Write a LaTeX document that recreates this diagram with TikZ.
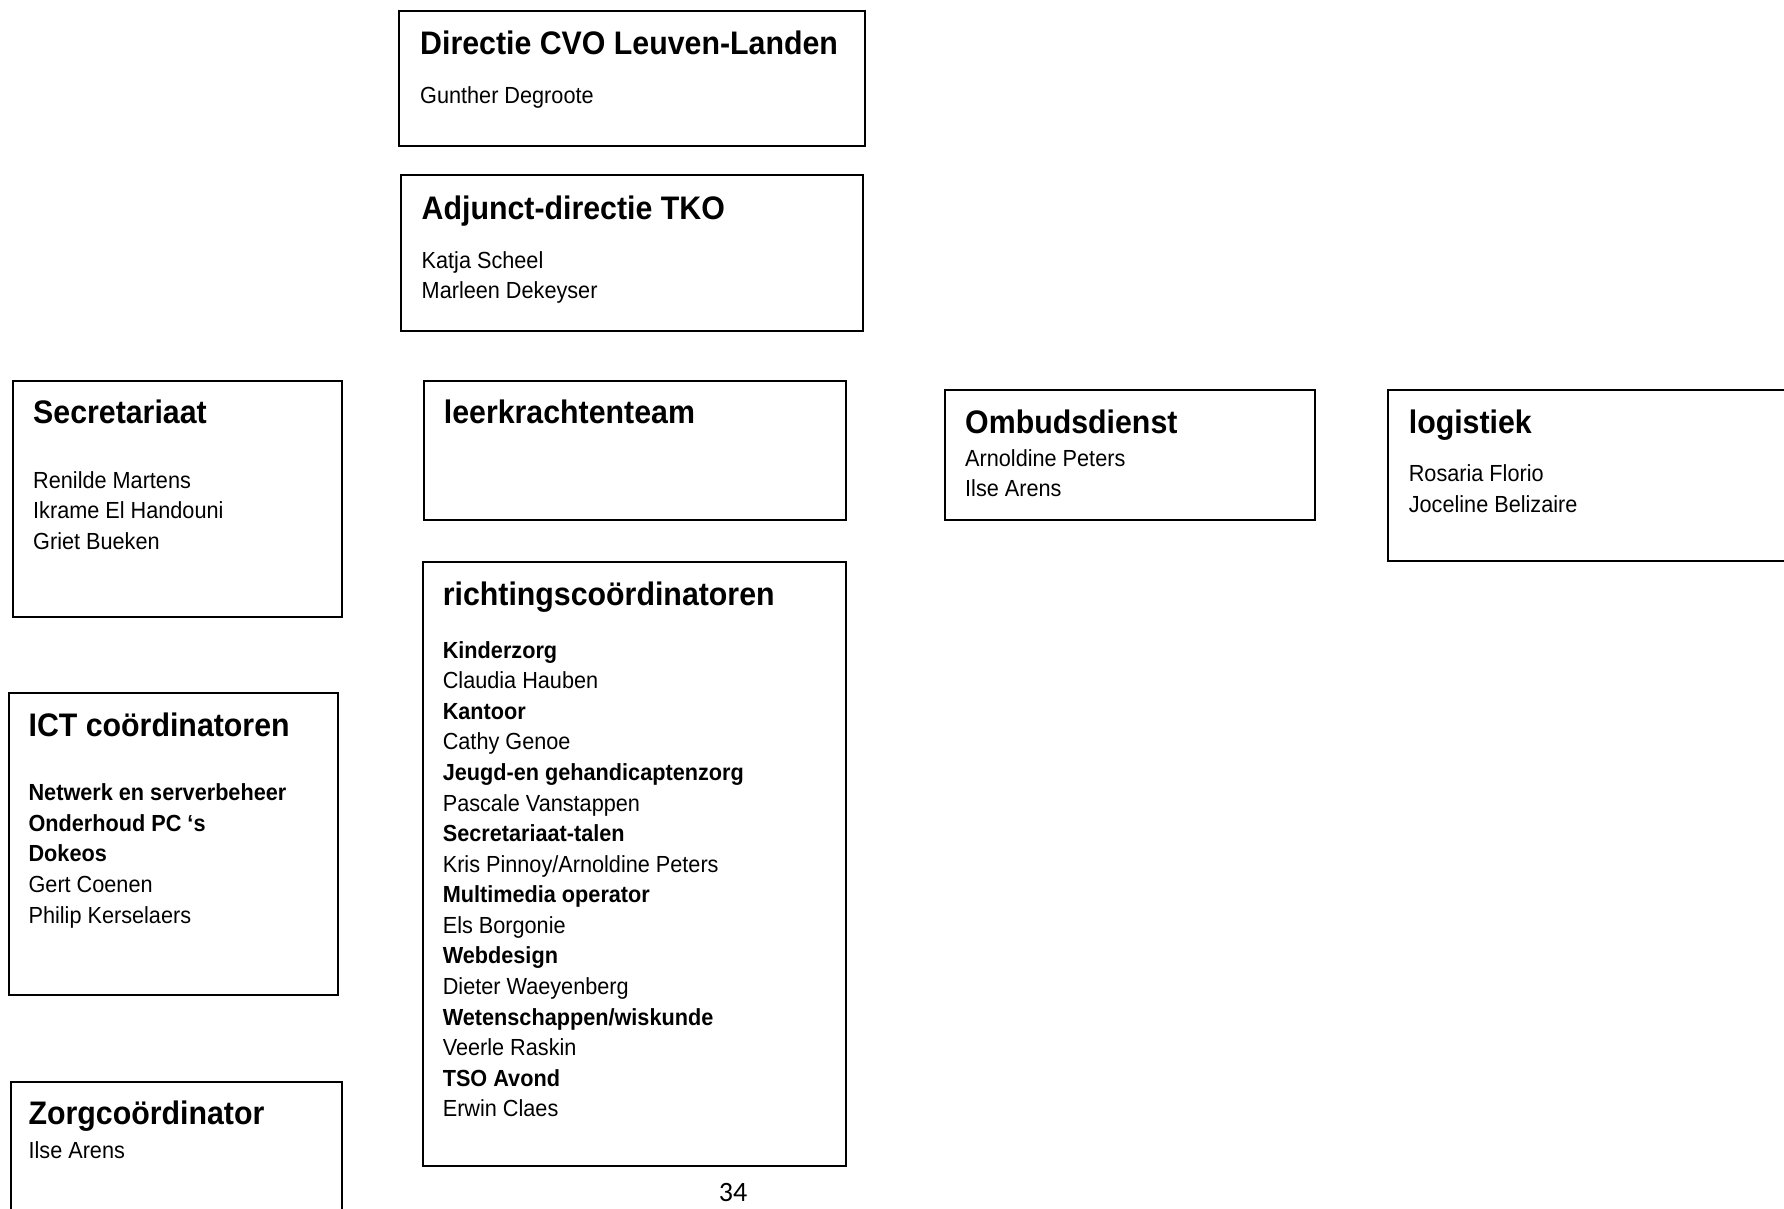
\documentclass[tikz,border=0pt]{standalone}
\usepackage{fontspec}
\setmainfont[FakeStretch=0.93]{Liberation Sans}
\newfontfamily\pagefont{Carlito}
\begin{document}
\begin{tikzpicture}[x=1pt,y=-1pt,
  box/.style={draw=black, line width=2pt, rectangle, anchor=north west, inner sep=0pt, fill=none},
  ttl/.style={anchor=base west, inner sep=0pt, font=\bfseries\fontsize{32.6}{38}\selectfont},
  tx/.style={anchor=base west, inner sep=0pt, font=\fontsize{23.3}{28}\selectfont},
  bt/.style={anchor=base west, inner sep=0pt, font=\bfseries\fontsize{23.3}{28}\selectfont}]
\useasboundingbox (0,0) rectangle (1784,1208);
\clip (0,0) rectangle (1784,1208);
% boxes
\node[box, minimum width=466pt, minimum height=135pt] (dir) at (398,10) {};
\node[box, minimum width=462pt, minimum height=156pt] (adj) at (400,174) {};
\node[box, minimum width=329pt, minimum height=236pt] (sec) at (12,380) {};
\node[box, minimum width=422pt, minimum height=139pt] (leer) at (423,380) {};
\node[box, minimum width=423pt, minimum height=604pt] (rich) at (422,561) {};
\node[box, minimum width=370pt, minimum height=130pt] (omb) at (944,389) {};
\node[box, minimum width=420pt, minimum height=171pt] (log) at (1387,389) {};
\node[box, minimum width=329pt, minimum height=302pt] (ict) at (8,692) {};
\node[box, minimum width=331pt, minimum height=160pt] (zorg) at (10,1081) {};
% Directie
\node[ttl] (dirT) at (420,54.6) {Directie CVO Leuven-Landen};
\node[tx] (dir1) at (420,103.5) {Gunther Degroote};
% Adjunct
\node[ttl] (adjT) at (421.5,219.6) {Adjunct-directie TKO};
\node[tx] (adj1) at (421.5,268) {Katja Scheel};
\node[tx] (adj2) at (421.5,298.5) {Marleen Dekeyser};
% Secretariaat
\node[ttl] (secT) at (33,423.3) {Secretariaat};
\node[tx] (sec1) at (33,488.7) {Renilde Martens};
\node[tx] (sec2) at (33,518.8) {Ikrame El Handouni};
\node[tx] (sec3) at (33,549) {Griet Bueken};
% leerkrachtenteam
\node[ttl] (leerT) at (443.7,423.3) {leerkrachtenteam};
% Ombudsdienst
\node[ttl] (ombT) at (965,433.5) {Ombudsdienst};
\node[tx] (omb1) at (965,466) {Arnoldine Peters};
\node[tx] (omb2) at (965,496.7) {Ilse Arens};
% logistiek
\node[ttl] (logT) at (1408.6,433.5) {logistiek};
\node[tx] (log1) at (1408.6,481.9) {Rosaria Florio};
\node[tx] (log2) at (1408.6,512.6) {Joceline Belizaire};
% richtingscoordinatoren
\node[ttl] (richT) at (442.6,605.3) {richtingscoördinatoren};
\node[bt] (r0) at (442.6,658.2) {Kinderzorg};
\node[tx] (r1) at (442.6,688.8) {Claudia Hauben};
\node[bt] (r2) at (442.6,719.3) {Kantoor};
\node[tx] (r3) at (442.6,749.9) {Cathy Genoe};
\node[bt] (r4) at (442.6,780.5) {Jeugd-en gehandicaptenzorg};
\node[tx] (r5) at (442.6,811.1) {Pascale Vanstappen};
\node[bt] (r6) at (442.6,841.6) {Secretariaat-talen};
\node[tx] (r7) at (442.6,872.2) {Kris Pinnoy/Arnoldine Peters};
\node[bt] (r8) at (442.6,902.8) {Multimedia operator};
\node[tx] (r9) at (442.6,933.3) {Els Borgonie};
\node[bt] (r10) at (442.6,963.9) {Webdesign};
\node[tx] (r11) at (442.6,994.5) {Dieter Waeyenberg};
\node[bt] (r12) at (442.6,1025.0) {Wetenschappen/wiskunde};
\node[tx] (r13) at (442.6,1055.6) {Veerle Raskin};
\node[bt] (r14) at (442.6,1086.2) {TSO Avond};
\node[tx] (r15) at (442.6,1116.7) {Erwin Claes};
% ICT
\node[ttl] (ictT) at (28.4,736.2) {ICT coördinatoren};
\node[bt] (ict1) at (28.4,800.4) {Netwerk en serverbeheer};
\node[bt] (ict2) at (28.4,831.1) {Onderhoud PC ‘s};
\node[bt] (ict3) at (28.4,861.8) {Dokeos};
\node[tx] (ict4) at (28.4,892.5) {Gert Coenen};
\node[tx] (ict5) at (28.4,923.3) {Philip Kerselaers};
% Zorg
\node[ttl] (zorgT) at (28.4,1124.1) {Zorgcoördinator};
\node[tx] (zorg1) at (28.4,1158.8) {Ilse Arens};
% page number
\node[anchor=base, inner sep=0pt, font=\pagefont\fontsize{28}{32}\selectfont] (pnum) at (733,1201) {34};
\end{tikzpicture}
\end{document}
